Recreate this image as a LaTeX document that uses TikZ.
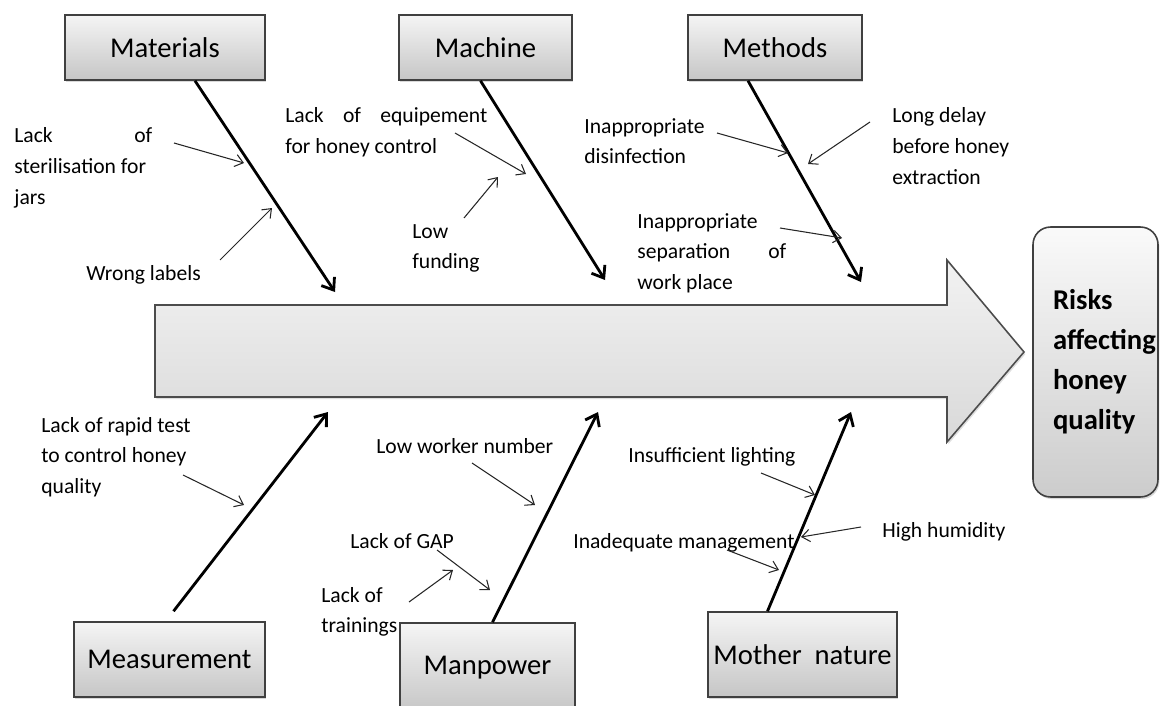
\documentclass[tikz,border=0pt]{standalone}
\usepackage{fontspec}
\setmainfont{Carlito}
\usetikzlibrary{shadows,arrows.meta}
\tikzset{
  catbox/.style={draw=black!75, line width=0.9pt, top color=gray!8, bottom color=gray!45,
    drop shadow={opacity=0.3, shadow xshift=0.8pt, shadow yshift=-1.2pt},
    font=\fontsize{16.3}{19}\selectfont, inner sep=0pt},
  riskbox/.style={catbox, rounded corners=0.35cm, top color=gray!4, bottom color=gray!40,
    font=\fontsize{16.3}{22.8}\selectfont\bfseries, align=flush left, text width=1.7cm},
  bone/.style={line width=1.6pt, -{Straight Barb[length=6pt,width=9pt]}},
  cause/.style={line width=0.6pt, black!85, -{Straight Barb[length=4.5pt,width=7pt]}},
  lbl/.style={font=\fontsize{12.3}{17.6}\selectfont, inner sep=0pt, anchor=base west, align=flush left}
}
\begin{document}
\begin{tikzpicture}[x=0.02cm,y=-0.02cm]
  \useasboundingbox (0,0) rectangle (1160,706);
  % big arrow
  \draw[draw=black!70, line width=0.9pt, top color=gray!10, bottom color=gray!30,
    drop shadow={opacity=0.25, shadow xshift=0.8pt, shadow yshift=-1.2pt}]
    (155,305) -- (947,305) -- (947,260) -- (1024,352) -- (947,442) -- (947,397) -- (155,397) -- cycle;
  \node[riskbox, minimum width=2.5cm, minimum height=5.4cm] (risks) at (1095.5,362) {Risks\\affecting\\honey\\quality\\[12pt]};
  % categories
  \node[catbox, minimum width=4cm, minimum height=1.3cm] (materials) at (165,47.5) {Materials};
  \node[catbox, minimum width=3.46cm, minimum height=1.3cm] (machine) at (485.5,47.5) {Machine};
  \node[catbox, minimum width=3.48cm, minimum height=1.3cm] (methods) at (775,47.5) {Methods};
  \node[catbox, minimum width=3.82cm, minimum height=1.5cm] (measurement) at (169.5,659.5) {Measurement};
  \node[catbox, minimum width=3.5cm, minimum height=1.8cm] (manpower) at (487.5,668) {Manpower};
  \node[catbox, minimum width=3.78cm, minimum height=1.7cm] (nature) at (802.5,654.5) {Mother\ \ nature};
  % bones
  \coordinate (matTip) at (335,292);
  \coordinate (machTip) at (605,280);
  \coordinate (methTip) at (861,282);
  \coordinate (measTip) at (328,412);
  \coordinate (manTip) at (598,412);
  \coordinate (natTip) at (851,412);
  \draw[bone] (materials.south) ++(30,0) -- (matTip);
  \draw[bone] (machine.south) ++(-5,0) -- (machTip);
  \draw[bone] (methods.south) ++(-27,0) -- (methTip);
  \draw[bone] (measurement.north) ++(4,-10) -- (measTip);
  \draw[bone] (manpower.north) ++(5,0) -- (manTip);
  \draw[bone] (nature.north) ++(-35,0) -- (natTip);
  % causes
  \node[lbl, text width=2.76cm] (ster) at (14,143) {Lack\hfill of\\sterilisation for\\jars};
  \node[lbl] (wrong) at (86,280) {Wrong labels};
  \node[lbl, text width=4.04cm] (equip) at (285,123) {Lack\hfill of\hfill equipement\\for honey control};
  \node[lbl, text width=2cm] (fund) at (412,238) {Low\\funding};
  \node[lbl, text width=2.6cm] (disinf) at (584,133) {Inappropriate\\disinfection};
  \node[lbl, text width=2.6cm] (delay) at (892,123) {Long delay\\before honey\\extraction};
  \node[lbl, text width=2.98cm] (separ) at (637,228) {Inappropriate\\separation\hfill of\\work place};
  \node[lbl, text width=3.2cm] (rapid) at (41,432) {Lack of rapid test\\to control honey\\quality};
  \node[lbl] (worker) at (376,453) {Low worker number};
  \node[lbl] (gap) at (350,548) {Lack of GAP};
  \node[lbl, text width=2cm] (train) at (321,602) {Lack of\\trainings};
  \node[lbl] (light) at (628,462) {Insufficient lighting};
  \node[lbl] (humid) at (882,537) {High humidity};
  \node[lbl] (manage) at (573,548) {Inadequate management};
  \path (174,143) coordinate (sterA) (244,163) coordinate (sterB)
        (220,260) coordinate (wrongA) (272,208) coordinate (wrongB)
        (455,133) coordinate (equipA) (526,174) coordinate (equipB)
        (464,218) coordinate (fundA) (498,177) coordinate (fundB)
        (717,133) coordinate (disinfA) (788,153) coordinate (disinfB)
        (870,122) coordinate (delayA) (808,164) coordinate (delayB)
        (780,228) coordinate (separA) (842,238) coordinate (separB)
        (183,475) coordinate (rapidA) (244,505) coordinate (rapidB)
        (472,463) coordinate (workerA) (535,505) coordinate (workerB)
        (437,550) coordinate (gapA) (490,590) coordinate (gapB)
        (409,602) coordinate (trainA) (453,570) coordinate (trainB)
        (761,473) coordinate (lightA) (815,495) coordinate (lightB)
        (861,527) coordinate (humidA) (801,537) coordinate (humidB)
        (727,550) coordinate (manageA) (779,570) coordinate (manageB);
  \foreach \c in {ster,wrong,equip,fund,disinf,delay,separ,rapid,worker,gap,train,light,humid,manage}
    \draw[cause] (\c A) -- (\c B);
\end{tikzpicture}
\end{document}
